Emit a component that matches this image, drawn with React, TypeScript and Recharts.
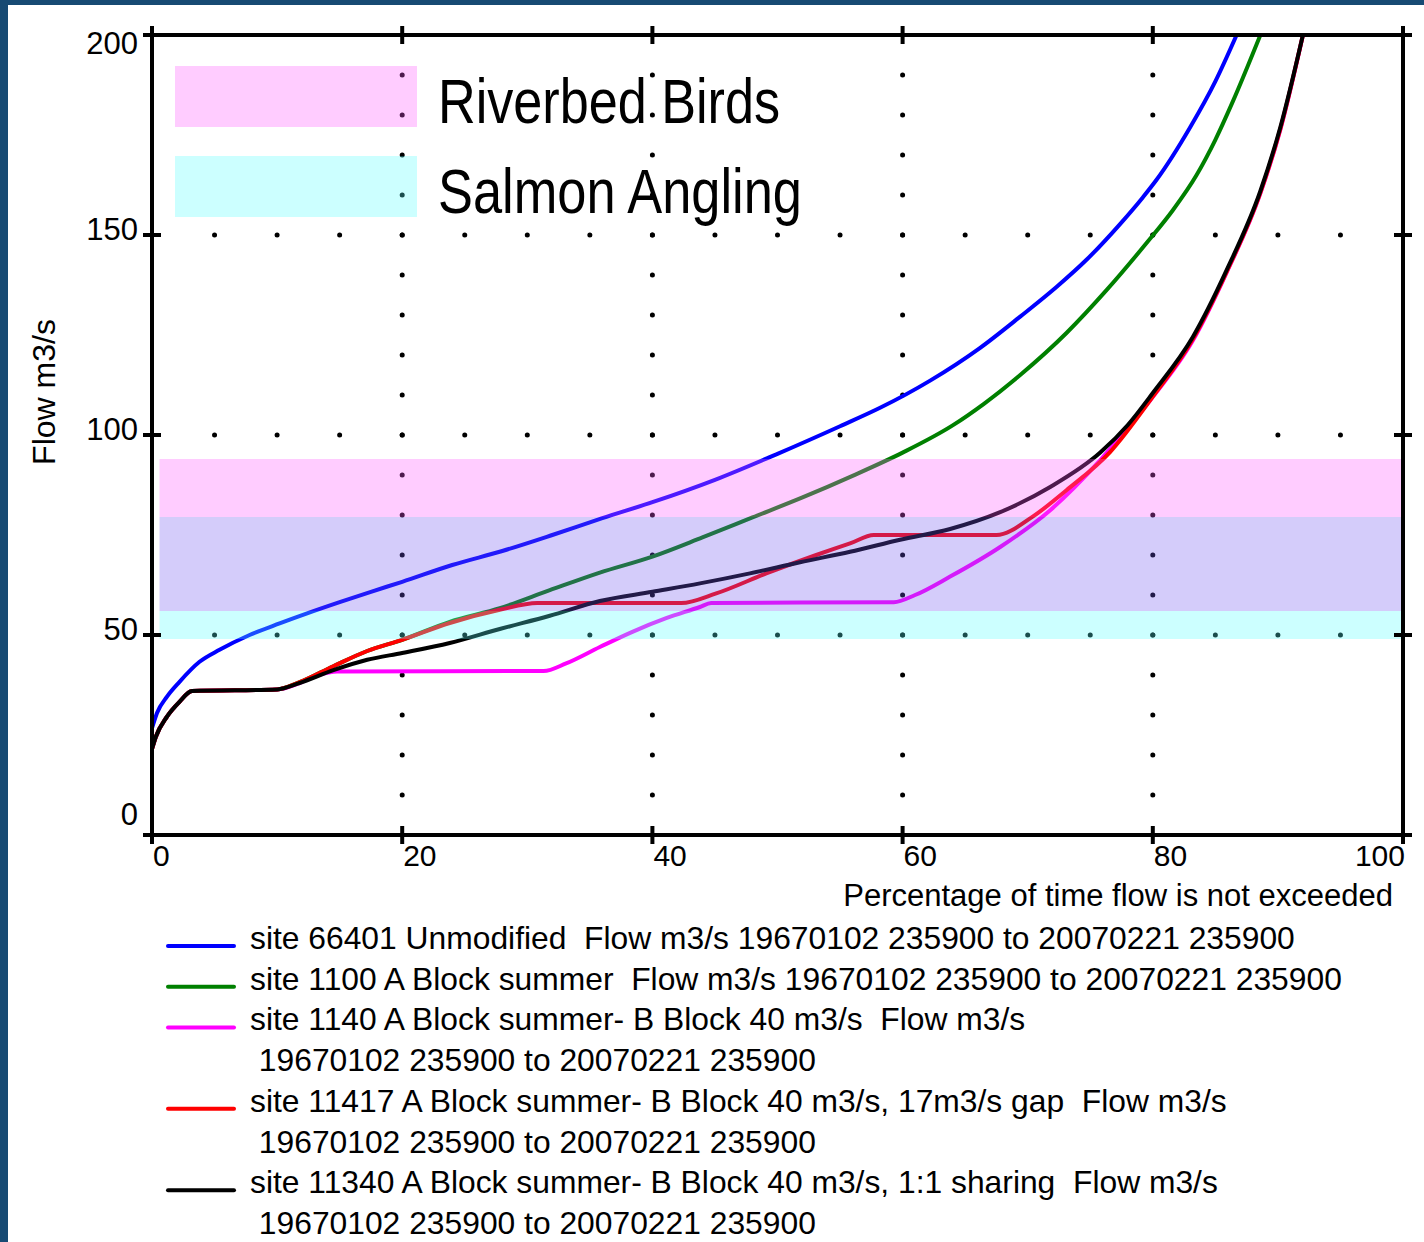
import React from 'react';
import {
  LineChart,
  Line,
  XAxis,
  YAxis,
  ReferenceLine,
  ReferenceArea,
} from 'recharts';

// flow duration curves: [percentage of time not exceeded, flow m3/s]
const unmodified = [
  [0, 26.7], [0.4, 30.5], [1.2, 34.6], [2.2, 38.3], [3.8, 43.3], [5.4, 46.3],
  [7.8, 50], [10.2, 52.9], [12.4, 55.4], [15, 58.2], [17.5, 60.8], [20, 63.3],
  [24, 67.5], [28, 71], [32, 75], [36, 79.2], [40, 83.2], [45, 88.8],
  [50, 95.3], [55, 102.2], [58.2, 106.8], [62.2, 113.6], [66.2, 121.8],
  [69.4, 129.6], [72.3, 137], [74.7, 143.8], [77.4, 152.8], [79.2, 159.4],
  [80.3, 163.8], [83, 177], [85, 188.4], [86.7, 200],
];

const aBlockSummer = [
  [0, 21.5], [0.3, 24.5], [1.2, 29.6], [2.2, 33.3], [3.2, 36], [10, 36.4],
  [11.8, 38.2], [14.5, 42.2], [17.2, 46], [20, 48.8], [23.8, 53.3],
  [27.8, 56.7], [31.8, 61.2], [35.8, 65.6], [40, 69.6], [44, 74.4],
  [48, 79.4], [52, 84.4], [56, 89.8], [60, 95.6], [64, 102.4],
  [66.5, 107.8], [69.4, 115], [73.1, 125.5], [76.3, 136.2], [79.5, 148],
  [81.6, 156.2], [83.5, 165], [85, 173.8], [86.4, 183.4], [88.6, 200],
];

const bBlock40 = [
  [0, 21.5], [0.3, 24.5], [1.2, 29.6], [2.2, 33.3], [3.2, 36], [10, 36.4],
  [11.8, 38], [13.3, 40], [14.8, 40.9], [31.3, 41], [33.1, 42.9], [35.8, 47],
  [38.4, 50.8], [41.1, 54.2], [43.8, 57], [44.7, 58], [59.3, 58.2], [61, 60],
  [63.8, 64.6], [67.8, 72], [71.8, 81.2], [75.8, 93.7], [79.8, 108.7],
  [83.2, 123.6], [85.9, 140.6], [88.6, 160.4], [90.2, 176.4], [92, 200],
];

const gap17 = [
  [0, 21.5], [0.3, 24.5], [1.2, 29.6], [2.2, 33.3], [3.2, 36], [10, 36.4],
  [11.8, 38.2], [14.5, 42.2], [17.2, 46], [20, 48.8], [23.8, 53],
  [27.8, 56.3], [30.8, 58], [42.3, 58], [45.1, 60.4], [49.1, 65.4],
  [53.1, 70], [55.8, 72.9], [57.7, 75], [67.5, 75], [70.4, 79.6],
  [73.1, 86.2], [76.6, 95.8], [80, 109.6], [83.2, 124], [85.9, 140.8],
  [88.6, 160.6], [90.2, 176.6], [92, 200],
];

const sharing11 = [
  [0, 21.5], [0.3, 24.5], [1.2, 29.6], [2.2, 33.3], [3.2, 36], [10, 36.4],
  [11.8, 38], [14.5, 41.2], [17.2, 43.8], [20, 45.5], [23.8, 48],
  [27.8, 51.5], [31.8, 54.8], [35.8, 58.5], [40, 60.8], [43.8, 62.9],
  [47.8, 65.4], [51.8, 68.2], [55.8, 70.8], [59.8, 73.8], [63.8, 76.5],
  [67.8, 80.7], [71.8, 87], [75.8, 95.6], [78, 102.5], [80, 110.5],
  [83.2, 124.5], [85.9, 141.2], [88.6, 161], [90.2, 177], [92, 200],
];

const SERIES = [
  {
    id: 'unmod',
    color: '#0000ff',
    points: unmodified,
    label: ['site 66401 Unmodified  Flow m3/s 19670102 235900 to 20070221 235900'],
  },
  {
    id: 'a1100',
    color: '#008000',
    points: aBlockSummer,
    label: ['site 1100 A Block summer  Flow m3/s 19670102 235900 to 20070221 235900'],
  },
  {
    id: 'b1140',
    color: '#ff00ff',
    points: bBlock40,
    label: ['site 1140 A Block summer- B Block 40 m3/s  Flow m3/s', ' 19670102 235900 to 20070221 235900'],
  },
  {
    id: 'g11417',
    color: '#ff0000',
    points: gap17,
    label: ['site 11417 A Block summer- B Block 40 m3/s, 17m3/s gap  Flow m3/s', ' 19670102 235900 to 20070221 235900'],
  },
  {
    id: 's11340',
    color: '#000000',
    points: sharing11,
    label: ['site 11340 A Block summer- B Block 40 m3/s, 1:1 sharing  Flow m3/s', ' 19670102 235900 to 20070221 235900'],
  },
];

// flow bands of interest (m3/s)
const BIRDS = { name: 'Riverbed Birds', low: 56, high: 94, color: '#ff55ff' };
const SALMON = { name: 'Salmon Angling', low: 49, high: 79.5, color: '#55ffff' };
const OVERLAP_COLOR = '#7055ee';
const BAND_START = 0.6;

const X_TICKS = [0, 20, 40, 60, 80, 100];
const Y_TICKS = [0, 50, 100, 150, 200];
const X_GRID = [20, 40, 60, 80];
const Y_GRID = [50, 100, 150];

const FONT = "'Liberation Sans', Arial, sans-serif";
const NARROW = "'Liberation Sans Narrow', 'Liberation Sans', Arial, sans-serif";
const W = 1424;
const CH = 900;
// plot area: x 152..1403, y 35..835 (axis sizes are added to these margins)
const MARGIN = { top: 25, right: 11, bottom: 35, left: 92 };
const AX = { top: 10, right: 10, bottom: 30, left: 60 };
const DOT_X = (W - MARGIN.left - MARGIN.right - AX.left - AX.right) / 20;
const DOT_Y = (CH - MARGIN.top - MARGIN.bottom - AX.top - AX.bottom) / 20;

const BottomTick = (props: any) => {
  const { x, y, payload } = props;
  const last = payload.value === X_TICKS[X_TICKS.length - 1];
  return (
    <g>
      <line x1={x} x2={x} y1={y - 9} y2={y + 9} stroke="#000" strokeWidth={4} />
      <text
        x={last ? x + 2 : x + 1}
        y={y + 31}
        textAnchor={last ? 'end' : 'start'}
        fontSize={30}
        fontFamily={FONT}
        fill="#000"
      >
        {payload.value}
      </text>
    </g>
  );
};

const TopTick = (props: any) => {
  const { x, y } = props;
  return <line x1={x} x2={x} y1={y - 9} y2={y + 9} stroke="#000" strokeWidth={4} />;
};

const LeftTick = (props: any) => {
  const { x, y, payload } = props;
  const v = payload.value;
  const dy = v === Y_TICKS[Y_TICKS.length - 1] ? 19 : v === Y_TICKS[0] ? -10 : 5;
  return (
    <g>
      <line x1={x - 9} x2={x + 9} y1={y} y2={y} stroke="#000" strokeWidth={4} />
      <text x={x - 14} y={y + dy} textAnchor="end" fontSize={31} fontFamily={FONT} fill="#000">
        {v}
      </text>
    </g>
  );
};

const RightTick = (props: any) => {
  const { x, y } = props;
  return <line x1={x - 9} x2={x + 9} y1={y} y2={y} stroke="#000" strokeWidth={4} />;
};

const toPts = (a: number[][]) => a.map(([x, y]) => ({ x, y }));

export default function App() {
  const overlapLow = Math.max(BIRDS.low, SALMON.low);
  const overlapHigh = Math.min(BIRDS.high, SALMON.high);
  const axisLine = { stroke: '#000', strokeWidth: 4, strokeLinecap: 'square' as const };
  const lastId = SERIES[SERIES.length - 1].id;

  let row = 0;
  const legendRows: React.ReactNode[] = [];
  SERIES.forEach((s) => {
    legendRows.push(
      <line
        key={s.id + '-l'}
        x1={168}
        x2={234}
        y1={946 + row * 40.7}
        y2={946 + row * 40.7}
        stroke={s.color}
        strokeWidth={4}
        strokeLinecap="round"
      />
    );
    s.label.forEach((t, i) => {
      legendRows.push(
        <text
          key={s.id + '-' + i}
          x={250}
          y={949 + row * 40.7}
          fontSize={31.8}
          fontFamily={FONT}
          fill="#000"
          xmlSpace="preserve"
          style={{ whiteSpace: 'pre' }}
        >
          {t}
        </text>
      );
      row += 1;
    });
  });

  return (
    <div style={{ position: 'absolute', left: 0, top: 0, width: W, height: 1242, background: '#174a73' }}>
      <div style={{ position: 'absolute', left: 8, top: 5, width: W - 8, height: 1237, background: '#fff' }} />
      <div style={{ position: 'absolute', left: 0, top: 0 }}>
        <LineChart width={W} height={CH} margin={MARGIN}>
          <XAxis
            type="number"
            dataKey="x"
            domain={[0, 100]}
            ticks={X_TICKS}
            height={AX.bottom}
            tickSize={0}
            tickMargin={0}
            tickLine={false}
            axisLine={axisLine}
            tick={<BottomTick />}
            allowDataOverflow
          />
          <XAxis
            xAxisId="top"
            orientation="top"
            type="number"
            dataKey="x"
            domain={[0, 100]}
            ticks={X_TICKS}
            height={AX.top}
            tickSize={0}
            tickMargin={0}
            tickLine={false}
            axisLine={axisLine}
            tick={<TopTick />}
            allowDataOverflow
          />
          <YAxis
            type="number"
            domain={[0, 200]}
            ticks={Y_TICKS}
            width={AX.left}
            tickSize={0}
            tickMargin={0}
            tickLine={false}
            axisLine={axisLine}
            tick={<LeftTick />}
            allowDataOverflow
          />
          <YAxis
            yAxisId="right"
            orientation="right"
            type="number"
            domain={[0, 200]}
            ticks={Y_TICKS}
            width={AX.right}
            tickSize={0}
            tickMargin={0}
            tickLine={false}
            axisLine={axisLine}
            tick={<RightTick />}
            allowDataOverflow
          />

          {X_GRID.map((v) => (
            <ReferenceLine
              key={'gx' + v}
              x={v}
              stroke="#000"
              strokeWidth={5}
              strokeLinecap="round"
              strokeDasharray={`0 ${DOT_Y}`}
            />
          ))}
          {Y_GRID.map((v) => (
            <ReferenceLine
              key={'gy' + v}
              y={v}
              stroke="#000"
              strokeWidth={5}
              strokeLinecap="round"
              strokeDasharray={`0 ${DOT_X}`}
            />
          ))}

          {/* the last series is bound to the top/right axes (same domains) so they get ticks */}
          {SERIES.map((s) => (
            <Line
              key={s.id}
              data={toPts(s.points)}
              dataKey="y"
              xAxisId={s.id === lastId ? 'top' : 0}
              yAxisId={s.id === lastId ? 'right' : 0}
              type="monotone"
              stroke={s.color}
              strokeWidth={4}
              dot={false}
              activeDot={false}
              isAnimationActive={false}
            />
          ))}

          <ReferenceArea
            x1={BAND_START}
            x2={100}
            y1={overlapHigh}
            y2={BIRDS.high}
            fill={BIRDS.color}
            fillOpacity={0.3}
            stroke="none"
            zIndex={450}
          />
          <ReferenceArea
            x1={BAND_START}
            x2={100}
            y1={overlapLow}
            y2={overlapHigh}
            fill={OVERLAP_COLOR}
            fillOpacity={0.3}
            stroke="none"
            zIndex={450}
          />
          <ReferenceArea
            x1={BAND_START}
            x2={100}
            y1={SALMON.low}
            y2={overlapLow}
            fill={SALMON.color}
            fillOpacity={0.3}
            stroke="none"
            zIndex={450}
          />
        </LineChart>
      </div>

      <svg
        width={W}
        height={1242}
        style={{ position: 'absolute', left: 0, top: 0, pointerEvents: 'none' }}
      >
        <rect x={175} y={66} width={242} height={61} fill={BIRDS.color} fillOpacity={0.3} />
        <rect x={175} y={156} width={242} height={61} fill={SALMON.color} fillOpacity={0.3} />
        <text x={438} y={123} fontSize={63} fontFamily={NARROW} textLength={342} lengthAdjust="spacingAndGlyphs">
          {BIRDS.name}
        </text>
        <text x={438} y={213} fontSize={63} fontFamily={NARROW} textLength={364} lengthAdjust="spacingAndGlyphs">
          {SALMON.name}
        </text>

        <text
          x={1393}
          y={906}
          textAnchor="end"
          fontSize={31}
          fontFamily={FONT}
          fill="#000"
        >
          Percentage of time flow is not exceeded
        </text>
        <text
          x={55}
          y={392}
          transform="rotate(-90 55 392)"
          textAnchor="middle"
          fontSize={32}
          fontFamily={FONT}
          fill="#000"
        >
          Flow m3/s
        </text>

        {legendRows}
      </svg>
    </div>
  );
}
